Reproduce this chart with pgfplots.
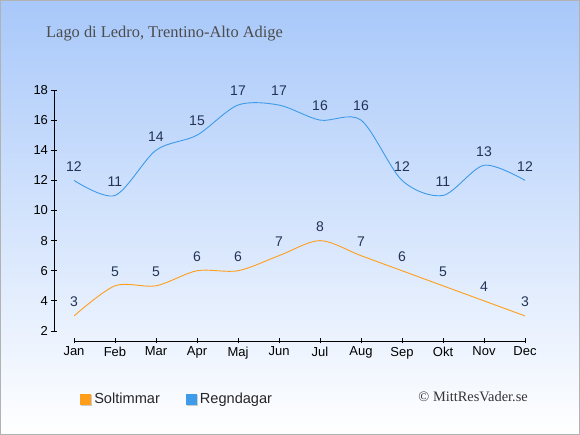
\documentclass[border=0pt]{standalone}
\usepackage{fontspec}
\setmainfont{Liberation Serif}
\newfontfamily\arialf{Liberation Sans}
\usepackage{pgfplots}
\pgfplotsset{compat=1.18}
\definecolor{sol}{HTML}{FF9E1A}
\definecolor{regn}{HTML}{3D9BEA}
\definecolor{lab}{HTML}{223355}
\definecolor{bgtop}{HTML}{A8C8FA}
\begin{document}
\begin{tikzpicture}
\shade[top color=bgtop, bottom color=white] (0pt,0pt) rectangle (580pt,435pt);
\draw[black!30] (0.5pt,0.5pt) rectangle (579.5pt,434.5pt);
\node[anchor=base west, inner sep=0pt, font=\fontsize{16.4}{18}\selectfont, text=black!70] at (46pt,397pt) {Lago di Ledro, Trentino-Alto Adige};
\node[anchor=base east, inner sep=0pt, font=\fontsize{14.4}{16}\selectfont, text=black!80] at (528pt,33pt) {© MittResVader.se};
\begin{axis}[
  at={(74pt,104pt)}, anchor=south west, scale only axis,
  width=451pt, height=241pt,
  xmin=0, xmax=11, ymin=2, ymax=18,
  axis lines=left, axis line style={-, black},
  axis x line shift=10pt, axis y line shift=20pt,
  tick align=center, major tick length=5pt,
  tick style={black, line width=0.8pt},
  xtick={0,...,11},
  xticklabels={Jan,Feb,Mar,Apr,Maj,Jun,Jul,Aug,Sep,Okt,Nov,Dec},
  ytick={2,4,...,18},
  /pgf/number format/assume math mode=true,
  tick label style={font=\arialf\fontsize{13}{15}\selectfont, text=black},
  legend style={at={(0.007,-0.282)}, anchor=west, draw=none, fill=none,
    font=\arialf\fontsize{14.6}{16}\selectfont, text=black!85, legend columns=2,
    /tikz/every even column/.append style={column sep=24pt}},
  legend image code/.code={\fill[black!20] (-2pt,-6pt) rectangle (8pt,4pt); \fill[#1] (-3pt,-5pt) rectangle (7pt,5pt);},
  nodes near coords,
  every node near coord/.append style={font=\arialf\fontsize{14}{16}\selectfont, text=lab, anchor=center, yshift=14pt},
]
\addplot[sol, line width=0.9pt, smooth] coordinates {(0,3)(1,5)(2,5)(3,6)(4,6)(5,7)(6,8)(7,7)(8,6)(9,5)(10,4)(11,3)};
\addlegendentry{Soltimmar}
\addplot[regn, line width=0.9pt, smooth] coordinates {(0,12)(1,11)(2,14)(3,15)(4,17)(5,17)(6,16)(7,16)(8,12)(9,11)(10,13)(11,12)};
\addlegendentry{Regndagar}
\end{axis}
\end{tikzpicture}
\end{document}
